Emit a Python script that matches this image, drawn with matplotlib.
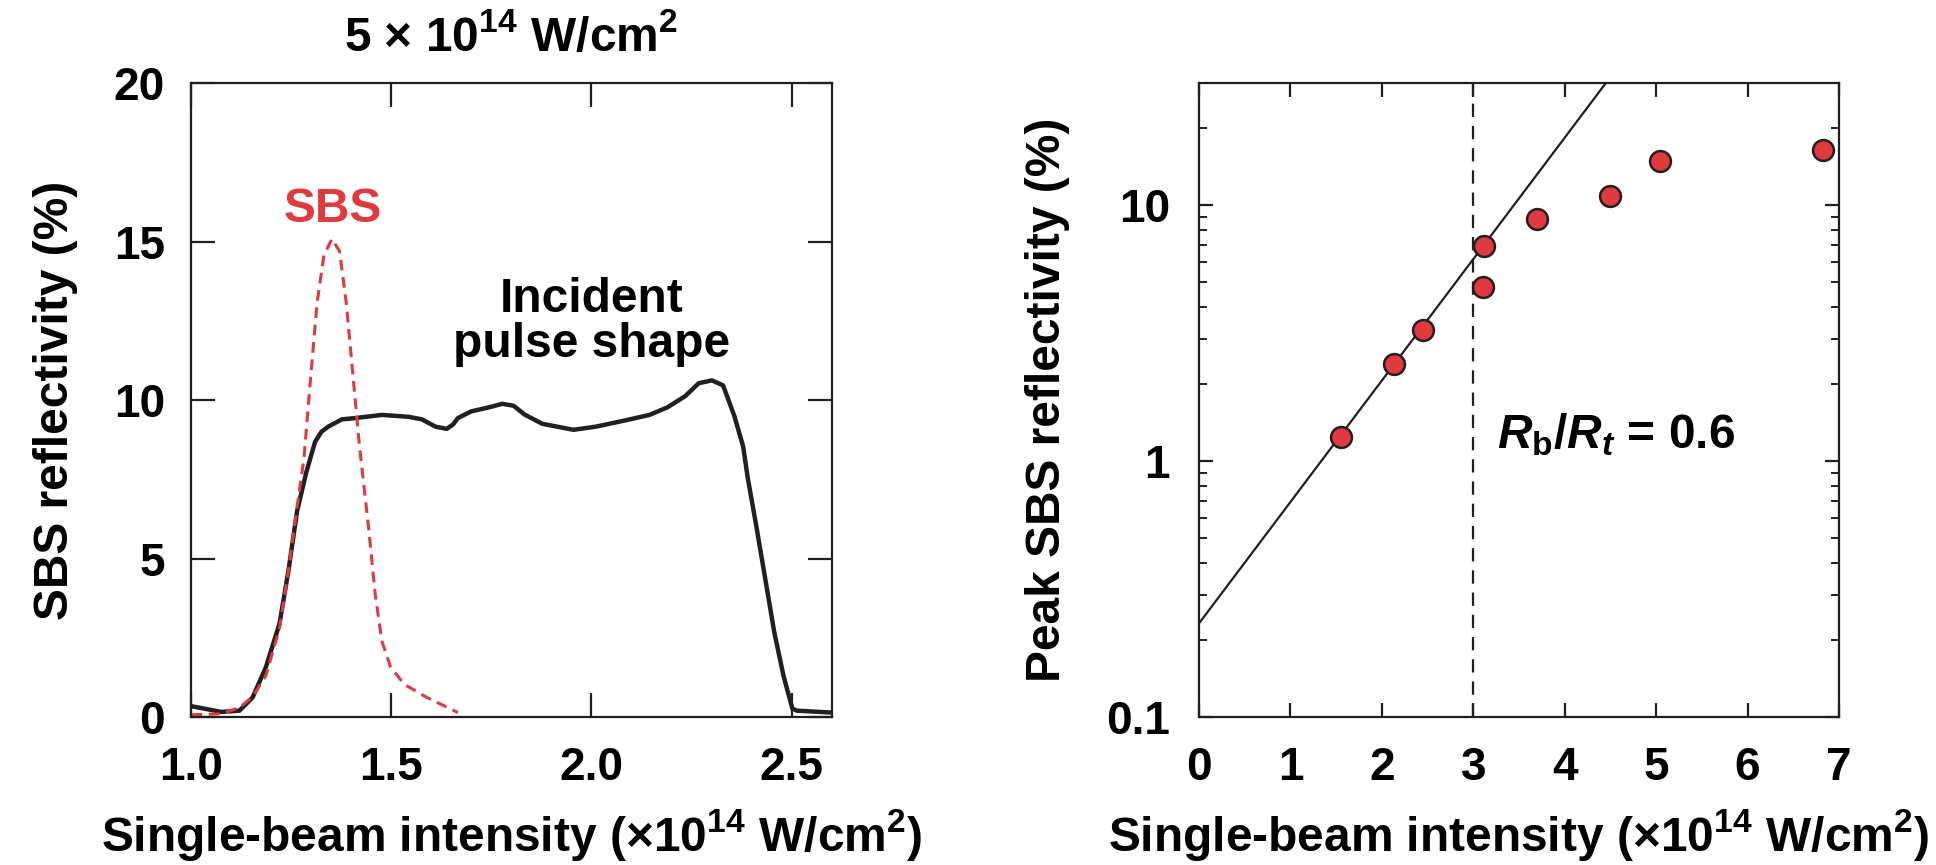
import matplotlib
matplotlib.use("Agg")
import matplotlib.pyplot as plt
from matplotlib.ticker import FixedLocator, NullFormatter, LogLocator

plt.rcParams['font.family'] = ['Liberation Sans', 'DejaVu Sans']
plt.rcParams['font.weight'] = 'bold'
plt.rcParams['mathtext.fontset'] = 'custom'
plt.rcParams['mathtext.rm'] = 'Liberation Sans:bold'
plt.rcParams['mathtext.bf'] = 'Liberation Sans:bold'
plt.rcParams['mathtext.it'] = 'Liberation Sans:italic:bold'
plt.rcParams['mathtext.default'] = 'regular'

# ---- Left panel data ----
pulse_x = [1.0, 1.075, 1.12, 1.153, 1.186, 1.22, 1.242, 1.264, 1.287, 1.309, 1.325, 1.342, 1.376,
           1.409, 1.476, 1.543, 1.576, 1.61, 1.638, 1.654, 1.666, 1.699, 1.744, 1.777, 1.805,
           1.833, 1.877, 1.955, 2.011, 2.078, 2.145, 2.19, 2.234, 2.268, 2.301, 2.329, 2.357,
           2.379, 2.39, 2.413, 2.435, 2.457, 2.48, 2.502, 2.513, 2.6]
pulse_y = [0.34, 0.16, 0.2, 0.62, 1.57, 2.94, 4.58, 6.49, 7.72, 8.68, 9.0, 9.16, 9.39,
           9.43, 9.53, 9.47, 9.39, 9.16, 9.09, 9.23, 9.43, 9.64, 9.77, 9.88, 9.82,
           9.54, 9.25, 9.06, 9.16, 9.34, 9.53, 9.77, 10.12, 10.53, 10.62, 10.46, 9.5,
           8.54, 7.59, 5.95, 4.31, 2.67, 1.30, 0.27, 0.2, 0.14]
sbs_x = [1.0, 1.075, 1.12, 1.153, 1.186, 1.22, 1.242, 1.264, 1.281, 1.298, 1.314, 1.331,
         1.351, 1.37, 1.387, 1.404, 1.42, 1.443, 1.459, 1.476, 1.498, 1.532, 1.588, 1.666]
sbs_y = [0.07, 0.1, 0.3, 0.64, 1.30, 2.8, 4.58, 6.63, 8.13, 10.73, 13.06, 14.56,
         15.08, 14.7, 13.06, 10.73, 8.54, 5.95, 3.9, 2.39, 1.57, 1.03, 0.62, 0.14]
left_xticks = [1.0, 1.5, 2.0, 2.5]
left_yticks = [0, 5, 10, 15, 20]

# ---- Right panel data ----
peak_x = [1.55, 2.13, 2.45, 3.12, 3.11, 3.70, 4.49, 5.04, 6.82]
peak_y = [1.24, 2.39, 3.24, 6.95, 4.77, 8.83, 10.9, 14.9, 16.4]
fit_x = [0.0, 4.45]
fit_y = [0.232, 30.0]
threshold_x = 3.0
right_xticks = [0, 1, 2, 3, 4, 5, 6, 7]
right_yticks = [0.1, 1, 10]
right_yticklabels = ['0.1', '1', '10']

RED = '#E0393E'
INK = '#231f20'
FS = 34.5
TFS = 33

fig = plt.figure(figsize=(19.36, 8.65), dpi=100)
axL = fig.add_axes([0.0989, 0.1711, 0.3306, 0.7329])
axR = fig.add_axes([0.6193, 0.1711, 0.3306, 0.7329])

for ax in (axL, axR):
    for s in ax.spines.values():
        s.set_linewidth(1.6)
        s.set_color(INK)

# Left panel
axL.plot(pulse_x, pulse_y, color=INK, lw=3.2, solid_joinstyle='round')
axL.plot(sbs_x, sbs_y, color=RED, lw=2.2, ls=(0, (3.5, 2.2)))
axL.set_xlim(1.0, 2.6)
axL.set_ylim(0, 20)
axL.set_xticks(left_xticks)
axL.set_xticklabels([f"{v:.1f}" for v in left_xticks])
axL.set_yticks(left_yticks)
axL.tick_params(direction='in', length=17, width=1.6, top=True, right=True,
                labelsize=TFS, color=INK)
axL.tick_params(axis='x', pad=21)
axL.tick_params(axis='y', pad=19)
axL.text(1.353, 16.0, 'SBS', color=RED, fontsize=FS, fontweight='bold',
         ha='center', va='center')
axL.text(2.0, 12.45, 'Incident\npulse shape', color='black', fontsize=FS,
         fontweight='bold', ha='center', va='center', linespacing=1.0)
axL.set_title('5 $\\times$ 10$^{14}$ W/cm$^{2}$', fontsize=FS, fontweight='bold', pad=23)
axL.set_xlabel('Single-beam intensity ($\\times$10$^{14}$ W/cm$^{2}$)', fontsize=FS,
               fontweight='bold', labelpad=12)
axL.set_ylabel('SBS reflectivity (%)', fontsize=FS, fontweight='bold', labelpad=26)

# Right panel
axR.set_yscale('log')
axR.plot(fit_x, fit_y, color=INK, lw=1.6)
axR.axvline(threshold_x, color=INK, lw=1.6, ls=(0, (6, 4)))
axR.plot(peak_x, peak_y, 'o', ms=15, mfc=RED, mec=INK, mew=1.8)
axR.set_xlim(0, 7)
axR.set_ylim(0.1, 30)
axR.set_xticks(right_xticks)
axR.yaxis.set_major_locator(FixedLocator(right_yticks))
axR.set_yticklabels(right_yticklabels)
axR.yaxis.set_minor_locator(LogLocator(base=10, subs=range(2, 10), numticks=20))
axR.yaxis.set_minor_formatter(NullFormatter())
axR.tick_params(which='major', direction='in', length=10, width=1.6, top=True, right=True,
                labelsize=TFS, color=INK)
axR.tick_params(axis='x', which='major', pad=21)
axR.tick_params(axis='y', which='major', pad=21)
axR.tick_params(which='minor', direction='in', length=6, width=1.4, top=True, right=True,
                color=INK)
axR.text(3.26, 1.12, '$\\mathit{R}_{\\mathrm{b}}/\\mathit{R}_{\\mathit{t}}$ = 0.6', fontsize=FS,
         fontweight='bold', ha='left', va='baseline')
axR.set_xlabel('Single-beam intensity ($\\times$10$^{14}$ W/cm$^{2}$)', fontsize=FS,
               fontweight='bold', labelpad=12)
axR.set_ylabel('Peak SBS reflectivity (%)', fontsize=FS, fontweight='bold', labelpad=26)

fig.savefig('out.png', dpi=100)
